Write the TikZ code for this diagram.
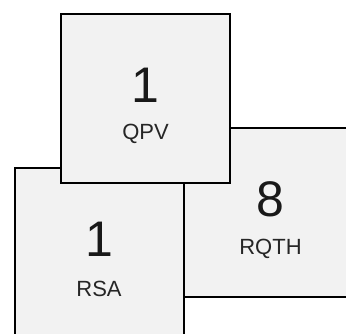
\documentclass[tikz,border=0pt]{standalone}
\usepackage{fontspec}
\setmainfont{Liberation Sans}
\tikzset{
    box/.style={draw=black, line width=2pt, fill=gray!10, minimum size=169pt, inner sep=0pt},
    num/.style={font=\fontsize{50}{50}\selectfont, text=black!90},
    tag/.style={font=\fontsize{22}{22}\selectfont, text=black!85}
}
\begin{document}
\begin{tikzpicture}[x=1pt,y=-1pt]
    \useasboundingbox(0,0)rectangle(346,334);
    \node[box](rqthbox)at(268.5,212.75){};
    \node[num](rqthnum)at([xshift=2pt,yshift=13.5pt]rqthbox.center){8};
    \node[tag](rqthtag)at([xshift=2pt,yshift=-36.5pt]rqthbox.center){RQTH};
    \node[box](rsabox)at(99,252.5){};
    \node[num](rsanum)at([yshift=13.5pt]rsabox.center){1};
    \node[tag](rsatag)at([yshift=-36.5pt]rsabox.center){RSA};
    \node[box](qpvbox)at(145.5,98.75){};
    \node[num](qpvnum)at([yshift=13.5pt]qpvbox.center){1};
    \node[tag](qpvtag)at([yshift=-35pt]qpvbox.center){QPV};
\end{tikzpicture}
\end{document}
